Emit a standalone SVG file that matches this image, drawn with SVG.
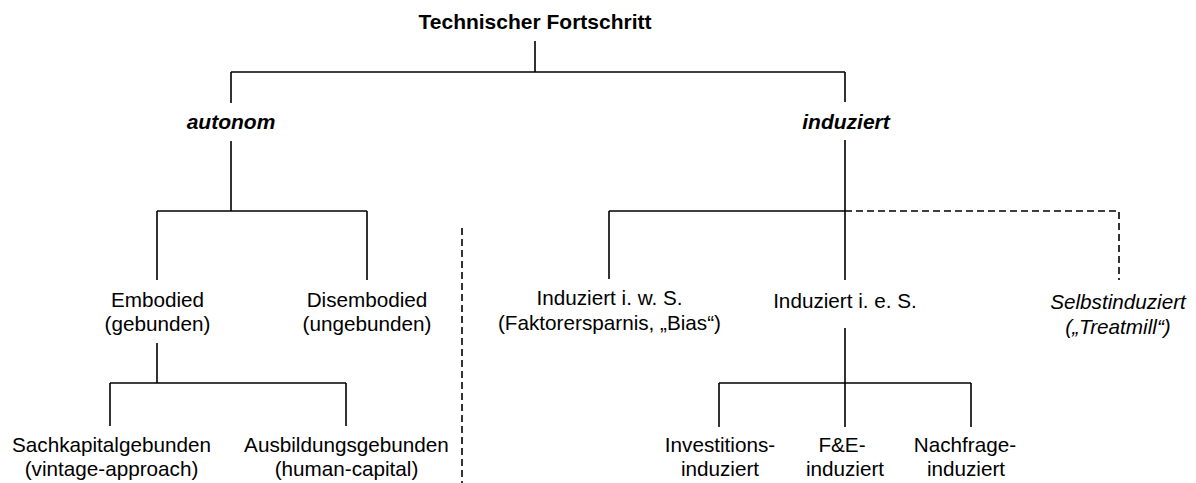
<svg xmlns="http://www.w3.org/2000/svg" width="1196" height="483" viewBox="0 0 1196 483">
<style>
text{font-family:"Liberation Sans",Arial,sans-serif;font-size:20.7px;fill:#000;text-anchor:middle}
.b{font-weight:bold;font-size:21px}
.bi{font-weight:bold;font-style:italic;font-size:21px}
.i{font-style:italic}
.ln{stroke:#000;stroke-width:1.6;fill:none}
.ds{stroke:#000;stroke-width:1.6;fill:none;stroke-dasharray:7,4}
</style>
<rect width="1196" height="483" fill="#fff"/>
<g id="connectors">
<path class="ln" d="M535 41V72M231 72H845M231 72V103M845 72V102M231 141V211M845 140V280M157 211H367M157 211V280M367 211V280M157 343V383M110 383H346M110 383V426M346 383V426M609 211H845M609 211V279M845 328V383M719 383H971M719 383V427M845 383V427M971 383V427"/>
<path class="ds" d="M845 211H1119V280"/>
<path class="ds" d="M462 228V483"/>
</g>
<g id="n-root"><text class="b" x="535" y="29">Technischer Fortschritt</text></g>
<g id="n-autonom"><text class="bi" x="231" y="129">autonom</text></g>
<g id="n-induziert"><text class="bi" x="846" y="129">induziert</text></g>
<g id="n-embodied"><text x="157.5" y="306.5">Embodied</text><text x="157.5" y="331">(gebunden)</text></g>
<g id="n-disembodied"><text x="367" y="306.5">Disembodied</text><text x="367" y="331">(ungebunden)</text></g>
<g id="n-iws"><text x="609.5" y="305">Induziert i. w. S.</text><text x="609.5" y="330">(Faktorersparnis, „Bias“)</text></g>
<g id="n-ies"><text x="845" y="308">Induziert i. e. S.</text></g>
<g id="n-selbst"><text class="i" x="1118" y="309">Selbstinduziert</text><text class="i" x="1118" y="334">(„Treatmill“)</text></g>
<g id="n-sach"><text x="111.5" y="452">Sachkapitalgebunden</text><text x="111.5" y="476">(vintage-approach)</text></g>
<g id="n-ausb"><text x="346.5" y="452">Ausbildungsgebunden</text><text x="346.5" y="476">(human-capital)</text></g>
<g id="n-inv"><text x="720" y="452">Investitions-</text><text x="720" y="476">induziert</text></g>
<g id="n-fe"><text x="842" y="452">F&amp;E-</text><text x="845" y="476">induziert</text></g>
<g id="n-nach"><text x="965" y="452">Nachfrage-</text><text x="966" y="476">induziert</text></g>
</svg>
